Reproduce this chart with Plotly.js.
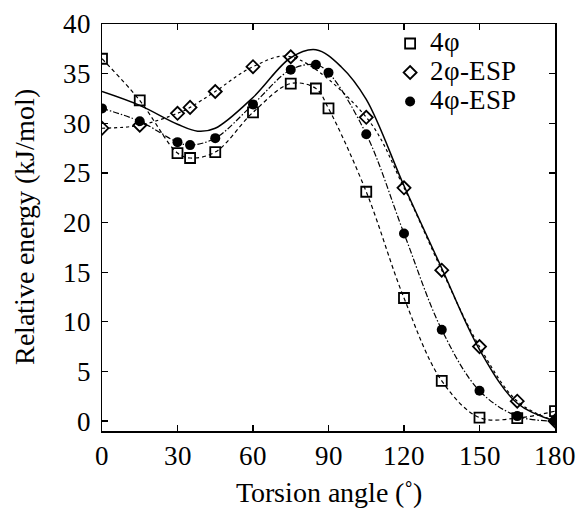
<!DOCTYPE html>
<html>
<head>
<meta charset="utf-8">
<script src="https://cdn.plot.ly/plotly-3.0.1.min.js"></script>
<style>
@font-face { font-family: 'TimesLike'; src: local('Liberation Serif'), local('LiberationSerif'), local('LiberationSerif-Regular'), local('Times New Roman'), local('Tinos'), local('Tinos-Regular'); }
html,body{margin:0;padding:0;background:#fff;}
</style>
</head>
<body>
<div id="chart" style="width:577px;height:514px;"></div>
<script>
// Torsion angles (degrees)
const angles = [0, 15, 30, 35, 45, 60, 75, 85, 90, 105, 120, 135, 150, 165, 180];
// 4φ (open squares)
const e4phi = [36.5, 32.3, 27.0, 26.5, 27.1, 31.1, 34.0, 33.5, 31.5, 23.1, 12.4, 4.05, 0.35, 0.3, 1.0];
// 2φ-ESP (open diamonds)
const angles2 = [0, 15, 30, 35, 45, 60, 75, 105, 120, 135, 150, 165, 180];
const e2phiESP = [29.5, 29.8, 31.0, 31.6, 33.2, 35.7, 36.7, 30.6, 23.5, 15.2, 7.5, 2.0, 0.0];
// 4φ-ESP (filled circles)
const e4phiESP = [31.5, 30.2, 28.1, 27.8, 28.5, 31.9, 35.4, 35.9, 35.1, 28.9, 18.9, 9.2, 3.05, 0.5, 0.0];
// Solid reference curve (no markers)
const refAngles = [0, 15, 30, 38, 45, 60, 75, 85, 95, 105, 120, 135, 150, 165, 180];
const refEnergy = [33.2, 31.8, 29.9, 29.2, 29.5, 32.6, 36.6, 37.4, 35.7, 32.4, 23.7, 15.4, 7.2, 1.8, 0.0];

const xTicks = [0, 30, 60, 90, 120, 150, 180];
const yTicks = [0, 5, 10, 15, 20, 25, 30, 35, 40];
const names = ['4φ', '2φ-ESP', '4φ-ESP'];

const FONT = 'TimesLike, "Liberation Serif", Tinos, "Times New Roman", "DejaVu Serif", serif';
const big = s => '<span style="font-size:27px">' + s + '</span>';

const traces = [
  {x: refAngles, y: refEnergy, mode: 'lines', line: {color: '#000', width: 1.5, shape: 'spline', smoothing: 1}, showlegend: false, hoverinfo: 'skip'},
  {x: angles, y: e4phi, mode: 'lines', line: {color: '#000', width: 1.2, dash: '4px,3px', shape: 'spline', smoothing: 1}, showlegend: false},
  {x: angles2, y: e2phiESP, mode: 'lines', line: {color: '#000', width: 1.2, dash: 'dot', shape: 'spline', smoothing: 1}, showlegend: false},
  {x: angles, y: e4phiESP, mode: 'lines', line: {color: '#000', width: 1.2, dash: '6px,2px,1.5px,2px', shape: 'spline', smoothing: 1}, showlegend: false},
  {x: angles, y: e4phi, name: big(names[0]), mode: 'markers', marker: {symbol: 'square-open', size: 10, color: '#000', line: {width: 1.8, color: '#000'}}},
  {x: angles2, y: e2phiESP, name: big(names[1]), mode: 'markers', marker: {symbol: 'diamond-open', size: 10, color: '#000', line: {width: 1.8, color: '#000'}}},
  {x: angles, y: e4phiESP, name: big(names[2]), mode: 'markers', marker: {symbol: 'circle', size: 10, color: '#000'}}
];

const layout = {
  width: 577, height: 514,
  margin: {l: 102, r: 22, t: 24, b: 83},
  paper_bgcolor: '#fff', plot_bgcolor: '#fff',
  font: {family: FONT, color: '#000', size: 21},
  showlegend: true,
  legend: {x: 0.636, y: 1.0, xanchor: 'left', yanchor: 'top', bgcolor: 'rgba(0,0,0,0)', font: {family: FONT, size: 20, color: '#000'}, tracegroupgap: 0},
  xaxis: {
    range: [0, 180], tickvals: xTicks, ticktext: xTicks.map(String),
    ticks: 'inside', ticklen: 6, tickwidth: 1.2, tickcolor: '#000',
    showline: true, linecolor: '#000', linewidth: 1.5, mirror: 'ticks',
    showgrid: false, zeroline: false, ticklabeloverflow: 'allow',
    tickfont: {family: FONT, size: 27, color: '#000'},
    title: {text: 'Torsion angle (˚)', font: {family: FONT, size: 28, color: '#000'}, standoff: 12}
  },
  yaxis: {
    range: [-1.0, 40], tickvals: yTicks, ticktext: yTicks.map(String),
    ticks: 'inside', ticklen: 6, tickwidth: 1.2, tickcolor: '#000',
    showline: true, linecolor: '#000', linewidth: 1.5, mirror: 'ticks',
    showgrid: false, zeroline: false, ticklabelstandoff: 4,
    tickfont: {family: FONT, size: 27, color: '#000'},
    title: {text: 'Relative energy (kJ/mol)', font: {family: FONT, size: 28, color: '#000'}, standoff: 20}
  }
};

Plotly.newPlot('chart', traces, layout, {staticPlot: true, displayModeBar: false});
</script>
</body>
</html>
